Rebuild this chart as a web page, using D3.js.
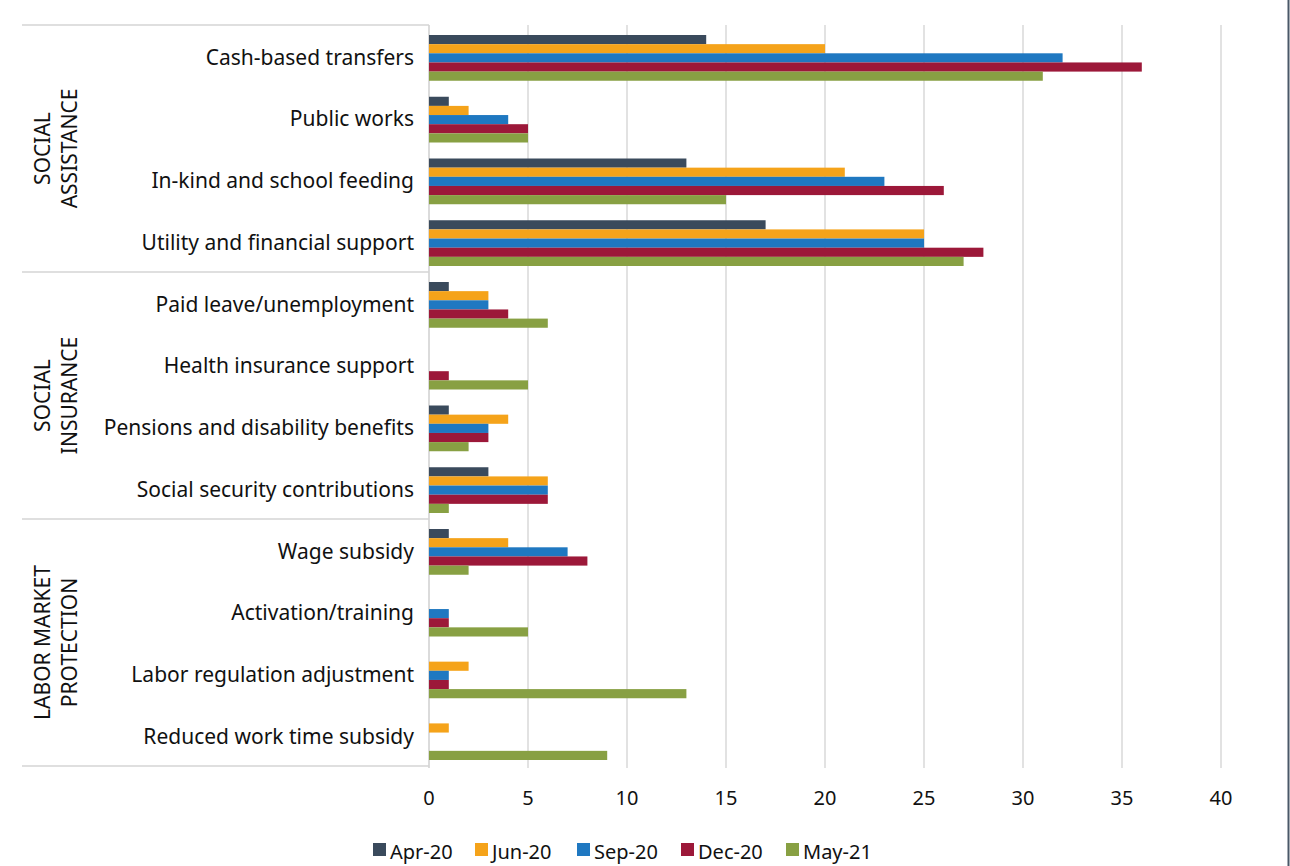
<!DOCTYPE html>
<html>
<head>
<meta charset="utf-8">
<script src="https://cdn.jsdelivr.net/npm/d3@7"></script>
<style>
body { margin: 0; background: #fff; }
svg text { font-family: "Noto Sans", sans-serif; fill: #111; }
</style>
</head>
<body>
<svg id="chart" width="1290" height="866"></svg>
<script>
var categories = ["Cash-based transfers", "Public works", "In-kind and school feeding", "Utility and financial support",
	"Paid leave/unemployment", "Health insurance support", "Pensions and disability benefits", "Social security contributions",
	"Wage subsidy", "Activation/training", "Labor regulation adjustment", "Reduced work time subsidy"];
var series = ["Apr-20", "Jun-20", "Sep-20", "Dec-20", "May-21"];
var apr20 = [14, 1, 13, 17, 1, 0, 1, 3, 1, 0, 0, 0];
var jun20 = [20, 2, 21, 25, 3, 0, 4, 6, 4, 0, 2, 1];
var sep20 = [32, 4, 23, 25, 3, 0, 3, 6, 7, 1, 1, 0];
var dec20 = [36, 5, 26, 28, 4, 1, 3, 6, 8, 1, 1, 0];
var may21 = [31, 5, 15, 27, 6, 5, 2, 1, 2, 5, 13, 9];
var groups = [["SOCIAL", "ASSISTANCE"], ["SOCIAL", "INSURANCE"], ["LABOR MARKET", "PROTECTION"]];
var xTicks = [0, 5, 10, 15, 20, 25, 30, 35, 40];
var colors = ["#3a4a5c", "#f5a31a", "#1f78c1", "#9c1839", "#88a043"];

var values = [apr20, jun20, sep20, dec20, may21];
var svg = d3.select("#chart");
var margin = { top: 25, bottom: 766, left: 429, right: 1221 };

var x = d3.scaleLinear().domain([0, 40]).range([margin.left, margin.right]);
var y = d3.scaleBand().domain(categories).range([margin.top, margin.bottom]).paddingInner(0).paddingOuter(0);
var ySub = d3.scaleBand().domain(series).range([10, y.bandwidth() - 6]);

// gridlines
svg.append("g").selectAll("line")
	.data(xTicks)
	.enter()
	.append("line")
	.attr("x1", d => x(d)).attr("x2", d => x(d))
	.attr("y1", margin.top).attr("y2", margin.bottom + 2)
	.attr("stroke", d => d == 0 ? "#cfcfcf" : "#d9d9d9")
	.attr("stroke-width", 1.5);

// group separators
var seps = [0, 4, 8, 12];
svg.append("g").selectAll("line")
	.data(seps)
	.enter()
	.append("line")
	.attr("x1", 22).attr("x2", margin.left)
	.attr("y1", d => d == 12 ? margin.bottom : margin.top + d * y.step())
	.attr("y2", d => d == 12 ? margin.bottom : margin.top + d * y.step())
	.attr("stroke", "#d4d4d4")
	.attr("stroke-width", 1.5);

// bars
series.forEach((s, i) => {
	svg.append("g").selectAll("rect")
		.data(categories)
		.enter()
		.append("rect")
		.attr("x", x(0))
		.attr("y", d => y(d) + ySub(s))
		.attr("width", (d, j) => x(values[i][j]) - x(0))
		.attr("height", ySub.bandwidth())
		.attr("fill", colors[i]);
});

// category labels
svg.append("g").selectAll("text")
	.data(categories)
	.enter()
	.append("text")
	.attr("x", 414)
	.attr("y", d => y(d) + y.bandwidth() / 2 + 3)
	.attr("text-anchor", "end")
	.attr("dominant-baseline", "middle")
	.attr("font-size", "21px")
	.text(d => d);

// group labels
groups.forEach((g, i) => {
	var cy = margin.top + (i * 4 + 2) * y.step();
	g.forEach((line, k) => {
		svg.append("text")
			.attr("transform", `translate(${50 + k * 27}, ${cy}) rotate(-90)`)
			.attr("text-anchor", "middle")
			.attr("font-size", "21px")
			.text(line);
	});
});

// x tick labels
svg.append("g").selectAll("text")
	.data(xTicks)
	.enter()
	.append("text")
	.attr("x", d => x(d))
	.attr("y", 805)
	.attr("text-anchor", "middle")
	.attr("font-size", "20px")
	.text(d => d);

// legend
var legendX = [373, 475, 577, 681, 786];
series.forEach((s, i) => {
	svg.append("rect")
		.attr("x", legendX[i]).attr("y", 843)
		.attr("width", 13).attr("height", 13)
		.attr("fill", colors[i]);
	svg.append("text")
		.attr("x", legendX[i] + 17).attr("y", 859)
		.attr("font-size", "20px")
		.text(s);
});

// right edge border
svg.append("line")
	.attr("x1", 1288.5).attr("x2", 1288.5)
	.attr("y1", 0).attr("y2", 866)
	.attr("stroke", "#4a5868")
	.attr("stroke-width", 2);
</script>
</body>
</html>
